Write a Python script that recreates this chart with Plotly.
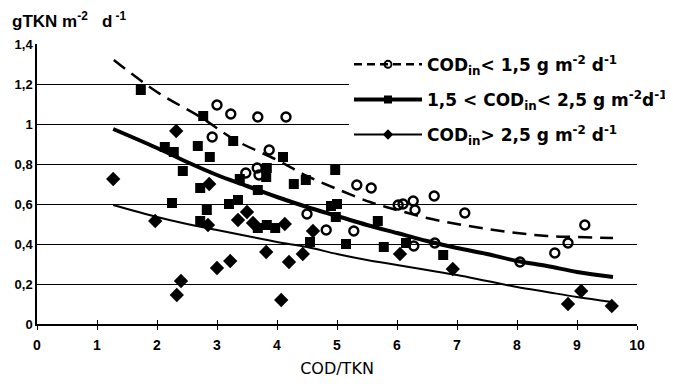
import plotly.graph_objects as go

# ---- data ----
low_x = [2.92, 3.0, 3.23, 3.48, 3.67, 3.7, 3.68, 3.87, 4.15, 4.5, 4.82, 5.28, 5.33, 5.57,
         6.02, 6.1, 6.27, 6.3, 6.28, 6.62, 6.63, 7.13, 8.05, 8.63, 8.85, 9.13]
low_y = [0.935, 1.095, 1.05, 0.755, 0.78, 0.745, 1.035, 0.87, 1.035, 0.55, 0.47, 0.465, 0.695, 0.68,
         0.595, 0.60, 0.615, 0.57, 0.39, 0.64, 0.405, 0.555, 0.31, 0.355, 0.405, 0.495]

mid_x = [1.73, 2.13, 2.28, 2.25, 2.43, 2.68, 2.72, 2.72, 2.77, 2.83, 2.88, 3.2, 3.27, 3.35, 3.38,
         3.68, 3.68, 3.83, 3.97, 3.83, 3.82, 4.1, 4.28, 4.48, 4.55, 4.9, 4.97, 5.0, 4.98, 5.15,
         5.68, 5.78, 6.15, 6.77]
mid_y = [1.17, 0.885, 0.86, 0.605, 0.765, 0.89, 0.68, 0.515, 1.04, 0.57, 0.835, 0.60, 0.915, 0.62, 0.725,
         0.67, 0.48, 0.495, 0.48, 0.78, 0.735, 0.835, 0.70, 0.72, 0.41, 0.59, 0.77, 0.60, 0.535, 0.40,
         0.515, 0.385, 0.405, 0.345]

high_x = [1.27, 1.97, 2.32, 2.33, 2.4, 2.85, 2.87, 3.0, 3.22, 3.35, 3.5, 3.6, 3.82, 4.13, 4.07,
          4.2, 4.43, 4.6, 6.05, 6.93, 8.85, 9.07, 9.58]
high_y = [0.725, 0.515, 0.965, 0.145, 0.215, 0.495, 0.70, 0.28, 0.315, 0.52, 0.56, 0.505, 0.36, 0.50, 0.12,
          0.31, 0.35, 0.465, 0.35, 0.275, 0.10, 0.165, 0.09]

# trend curves
low_fit_x = [1.28, 2.0, 2.75, 3.3, 4.0, 4.5, 5.0, 5.55, 6.0, 6.5, 7.0, 7.5, 8.0, 8.5, 9.0, 9.6]
low_fit_y = [1.32, 1.16, 1.03, 0.92, 0.82, 0.74, 0.675, 0.61, 0.57, 0.53, 0.50, 0.475, 0.455, 0.44, 0.435, 0.43]

mid_fit_x = [1.27, 2.0, 2.5, 3.0, 3.5, 4.0, 4.5, 5.0, 5.5, 6.0, 6.5, 7.0, 7.5, 8.0, 8.5, 9.0, 9.6]
mid_fit_y = [0.975, 0.88, 0.81, 0.745, 0.69, 0.635, 0.585, 0.54, 0.495, 0.455, 0.415, 0.38, 0.35, 0.315, 0.29, 0.26, 0.235]

high_fit_x = [1.27, 2.0, 2.5, 3.0, 3.5, 4.0, 4.5, 5.0, 5.5, 6.0, 6.5, 7.0, 7.5, 8.0, 8.5, 9.0, 9.58]
high_fit_y = [0.595, 0.535, 0.50, 0.47, 0.44, 0.41, 0.385, 0.35, 0.32, 0.295, 0.27, 0.245, 0.215, 0.185, 0.16, 0.135, 0.11]

legend_names = [
    "COD<sub>in</sub>< 1,5 g m<sup>-2</sup> d<sup>-1</sup>",
    "1,5 < COD<sub>in</sub>< 2,5 g m<sup>-2</sup>d<sup>-1</sup>",
    "COD<sub>in</sub>> 2,5 g m<sup>-2</sup> d<sup>-1</sup>",
]

FONT = "Liberation Sans, Arial, sans-serif"
WIDE = "DejaVu Sans, Liberation Sans, sans-serif"
BLACK = "#000000"

fig = go.Figure()

# fit lines
fig.add_trace(go.Scatter(x=low_fit_x, y=low_fit_y, mode="lines", line_shape="spline",
                         line=dict(color=BLACK, width=2.5, dash="14px,8px"), showlegend=False, hoverinfo="skip"))
fig.add_trace(go.Scatter(x=mid_fit_x, y=mid_fit_y, mode="lines", line_shape="spline",
                         line=dict(color=BLACK, width=4), showlegend=False, hoverinfo="skip"))
fig.add_trace(go.Scatter(x=high_fit_x, y=high_fit_y, mode="lines", line_shape="spline",
                         line=dict(color=BLACK, width=2), showlegend=False, hoverinfo="skip"))

# data points
fig.add_trace(go.Scatter(x=low_x, y=low_y, mode="markers", showlegend=False,
                         marker=dict(symbol="circle-open", size=9, color=BLACK, line=dict(width=2.4, color=BLACK))))
fig.add_trace(go.Scatter(x=mid_x, y=mid_y, mode="markers", showlegend=False,
                         marker=dict(symbol="square", size=10, color=BLACK)))
fig.add_trace(go.Scatter(x=high_x, y=high_y, mode="markers", showlegend=False,
                         marker=dict(symbol="diamond", size=11, color=BLACK)))

# legend entries
legend_lines = [dict(color=BLACK, width=2.5, dash="8px,5px"), dict(color=BLACK, width=4), dict(color=BLACK, width=2)]
legend_markers = [dict(symbol="circle-open", size=7, color=BLACK, line=dict(width=2)),
                  dict(symbol="square", size=8, color=BLACK),
                  dict(symbol="diamond", size=8, color=BLACK)]
for i in range(3):
    fig.add_trace(go.Scatter(x=[None], y=[None], mode="lines+markers", name=legend_names[i],
                             legendgroup="g%d" % i, line=legend_lines[i], marker=legend_markers[i]))

# overlay axis to make ticks cross the x axis
fig.add_trace(go.Scatter(x=[None], y=[None], xaxis="x2", showlegend=False))

# the page body adds an 8px offset, so the figure is 8px smaller than the window
fig.update_layout(
    width=665, height=376,
    margin=dict(l=29, r=36, t=36, b=60, autoexpand=False),
    paper_bgcolor="white", plot_bgcolor="white",
    separators=", ",
    font=dict(family=FONT, color=BLACK, size=12),
    showlegend=True,
    legend=dict(x=0.52, y=0.99, xanchor="left", yanchor="top",
                bgcolor="white", borderwidth=0,
                font=dict(family=WIDE, size=17, color=BLACK, weight="bold"),
                itemwidth=68, tracegroupgap=10),
    xaxis=dict(range=[0, 10], dtick=1, tick0=0, showgrid=False, zeroline=False, automargin=False,
               showline=True, linecolor=BLACK, linewidth=1.5,
               ticks="outside", ticklen=4, tickwidth=1.2, tickcolor=BLACK, ticklabelstandoff=3,
               tickfont=dict(family=FONT, size=14, color=BLACK, weight="bold"),
               title=dict(text="COD/TKN", font=dict(family=WIDE, size=16, color=BLACK), standoff=11)),
    xaxis2=dict(range=[0, 10], dtick=1, tick0=0, overlaying="x", side="bottom", anchor="y",
                showgrid=False, zeroline=False, showticklabels=False, automargin=False,
                ticks="inside", ticklen=4, tickwidth=1.2, tickcolor=BLACK),
    yaxis=dict(range=[0, 1.4], dtick=0.2, tick0=0, showgrid=True, gridcolor=BLACK, gridwidth=1.2,
               zeroline=False, showline=True, linecolor=BLACK, linewidth=1.5, automargin=False,
               ticks="", tickformat=".1~f",
               tickfont=dict(family=FONT, size=13, color=BLACK, weight="bold")),
    annotations=[dict(text="gTKN m<sup>-2</sup>   d<sup> -1</sup>", xref="paper", yref="paper",
                      x=-0.045, y=1.086, xanchor="left", yanchor="middle", showarrow=False,
                      font=dict(family=FONT, size=17, color=BLACK, weight="bold"))],
)

fig.write_html("out.html")
